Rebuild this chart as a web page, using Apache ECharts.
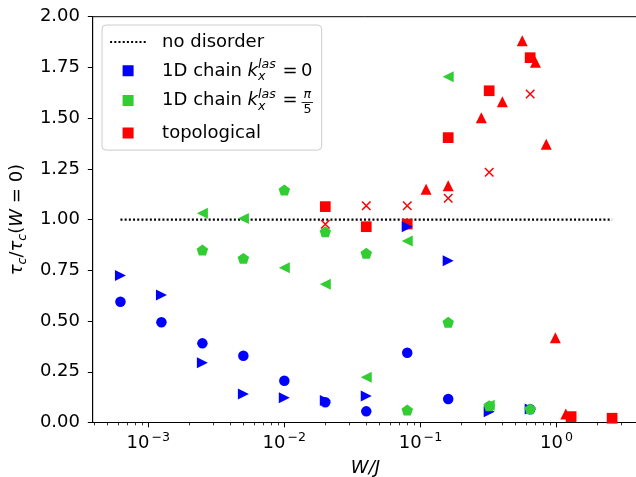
<!DOCTYPE html>
<html><head><meta charset="utf-8">
<script src="https://cdn.jsdelivr.net/npm/echarts@6/dist/echarts.min.js"></script>
<style>html,body{margin:0;padding:0;background:#fff}#c{width:636px;height:477px}</style>
</head><body><div id="c"></div>
<script>
// ---------------- data ----------------
const noDisorderW = [0.000625, 2.56];
const noDisorderY = [1.0, 1.0];

const chain0CircleW = [0.000625, 0.00125, 0.0025, 0.005, 0.01, 0.02, 0.04, 0.08, 0.16, 0.32, 0.64];
const chain0CircleY = [0.595, 0.494, 0.390, 0.329, 0.206, 0.100, 0.055, 0.344, 0.116, 0.078, 0.065];
const chain0TriW = [0.000625, 0.00125, 0.0025, 0.005, 0.01, 0.02, 0.04, 0.08, 0.16, 0.32, 0.64];
const chain0TriY = [0.725, 0.628, 0.295, 0.140, 0.122, 0.108, 0.131, 0.965, 0.797, 0.053, 0.066];

const chainPiPentW = [0.0025, 0.005, 0.01, 0.02, 0.04, 0.08, 0.16, 0.32, 0.64];
const chainPiPentY = [0.850, 0.809, 1.146, 0.940, 0.834, 0.062, 0.494, 0.083, 0.067];
const chainPiTriW = [0.0025, 0.005, 0.01, 0.02, 0.04, 0.08, 0.16, 0.32];
const chainPiTriY = [1.031, 1.006, 0.763, 0.681, 0.223, 0.895, 1.704, 0.085];

const topoSquareW = [0.02, 0.04, 0.08, 0.16, 0.32, 0.64, 1.28, 2.56];
const topoSquareY = [1.064, 0.965, 0.978, 1.404, 1.635, 1.798, 0.029, 0.021];
const topoCrossW = [0.02, 0.04, 0.08, 0.16, 0.32, 0.64, 2.56];
const topoCrossY = [0.977, 1.068, 1.068, 1.105, 1.233, 1.619, 0.025];
const topoTriW = [0.11, 0.16, 0.28, 0.40, 0.56, 0.70, 0.84, 0.98, 1.17];
const topoTriY = [1.149, 1.167, 1.502, 1.581, 1.882, 1.775, 1.371, 0.418, 0.042];

const xMajorTicks = [0.001, 0.01, 0.1, 1];
const legendNames = ['no disorder', 'chain0', 'chainPi', 'topological'];

// ---------------- chart ----------------
const FONT = 'DejaVu Sans';
const BLUE = '#0000ff', GREEN = '#32cd32', RED = '#ff0000';
const XMIN = -3.408, XMAX = 0.6;
const L = v => Math.log10(v);
const pts = (ws, ys) => ws.map((w, i) => [L(w), ys[i]]);

const xMinorTicks = [];
for (let n = -4; n <= 0; n++) for (let k = 2; k <= 9; k++) xMinorTicks.push(k * Math.pow(10, n));

const PENTAGON = 'path://M0,-1L0.9511,-0.309L0.5878,0.809L-0.5878,0.809L-0.9511,-0.309Z';
const CROSS = 'path://M0,0L1,1M1,0L0,1';
const SQ_ICON = 'path://M0,0L0.01,0M12.5,0L23.5,0L23.5,11L12.5,11ZM36,11L35.99,11';

const legendLabels = {
  'no disorder': '{p|no disorder}',
  'chain0': '{p|1D chain }{i|k}{sub|x}{sup|las}{n|\u2009=\u20090}',
  'chainPi': '{p|1D chain }{i|k}{sub|x}{sup|las}{n|\u2009=\u2009}{fpi|\u2009\u03c0}{f5|\u20095}{fbar|\u2014}',
  'topological': '{p|topological}'
};

const base = {fontFamily: FONT, color: '#000'};
const legendRich = {
  p: Object.assign({}, base, {fontSize: 18, padding: [0, 0, 0, 11]}),
  n: Object.assign({}, base, {fontSize: 18, padding: [0, 0, 0, 3]}),
  i: Object.assign({}, base, {fontSize: 18, fontStyle: 'italic'}),
  sup: Object.assign({}, base, {fontSize: 12.6, fontStyle: 'italic', height: 12.7, verticalAlign: 'top'}),
  sub: Object.assign({}, base, {fontSize: 12.6, fontStyle: 'italic', height: 11.9, verticalAlign: 'bottom', width: 0}),
  fpi: Object.assign({}, base, {fontSize: 12.6, fontStyle: 'italic', height: 12, verticalAlign: 'top', width: 0}),
  f5: Object.assign({}, base, {fontSize: 12.6, height: 5.4, verticalAlign: 'bottom', width: 0}),
  fbar: Object.assign({}, base, {fontSize: 12.6, height: 19, verticalAlign: 'bottom'})
};

function fmtPow(v) {
  const e = Math.round(v);
  return '{b|10}{s|' + (e < 0 ? '\u2212' + (-e) : String(e)) + '}';
}

function scatter(name, ws, ys, symbol, size, color, extra) {
  return Object.assign({
    type: 'scatter', name: name, data: pts(ws, ys), symbol: symbol, symbolSize: size,
    symbolKeepAspect: true, itemStyle: {color: color, opacity: 1}, silent: true,
    emphasis: {disabled: true}, xAxisIndex: 0, yAxisIndex: 0
  }, extra || {});
}

const chart = echarts.init(document.getElementById('c'), null, {renderer: 'canvas'});
chart.setOption({
  animation: false,
  backgroundColor: '#ffffff',
  textStyle: {fontFamily: FONT},
  grid: {left: 92.7, top: 16.7, right: -2.2, bottom: 54.5, show: true, borderColor: '#000', borderWidth: 1,
         containLabel: false, outerBoundsMode: 'none'},
  xAxis: [
    {
      type: 'value', min: XMIN, max: XMAX, position: 'bottom',
      name: 'W/J', nameLocation: 'middle', nameGap: 34.8,
      nameTextStyle: {fontFamily: FONT, fontSize: 18, fontStyle: 'italic', color: '#000', lineHeight: 22},
      axisLine: {show: true, onZero: false, lineStyle: {color: '#000', width: 1}},
      axisTick: {show: true, length: 4.9, lineStyle: {color: '#000', width: 1}, customValues: xMajorTicks.map(L)},
      axisLabel: {
        show: true, margin: 10, customValues: xMajorTicks.map(L), formatter: fmtPow,
        rich: {
          b: {fontFamily: FONT, fontSize: 18, color: '#000', lineHeight: 22},
          s: {fontFamily: FONT, fontSize: 12.6, color: '#000', height: 9.6, verticalAlign: 'top', padding: [0, 0, 0, 2]}
        }
      },
      splitLine: {show: false}
    },
    {
      type: 'value', min: XMIN, max: XMAX, position: 'bottom', gridIndex: 0,
      axisLine: {show: false, onZero: false}, axisLabel: {show: false}, splitLine: {show: false},
      axisTick: {show: true, length: 2.8, lineStyle: {color: '#000', width: 0.8}, customValues: xMinorTicks.map(L)}
    }
  ],
  yAxis: {
    type: 'value', min: 0, max: 2, interval: 0.25,
    name: '{i|\u03c4}{sb|c}{n|/}{i|\u03c4}{sb|c}{n|(}{i|W}{n| = 0)}',
    nameLocation: 'middle', nameGap: 57,
    nameTextStyle: {
      fontFamily: FONT, fontSize: 18, color: '#000', lineHeight: 22,
      rich: {
        n: {fontFamily: FONT, fontSize: 18, color: '#000', lineHeight: 22},
        i: {fontFamily: FONT, fontSize: 18, fontStyle: 'italic', color: '#000', lineHeight: 22},
        sb: {fontFamily: FONT, fontSize: 12.6, fontStyle: 'italic', color: '#000', height: 12.2, verticalAlign: 'bottom'}
      }
    },
    axisLine: {show: true, onZero: false, lineStyle: {color: '#000', width: 1}},
    axisTick: {show: true, length: 4.9, lineStyle: {color: '#000', width: 1}},
    axisLabel: {show: true, margin: 12.7, fontFamily: FONT, fontSize: 18, color: '#000', formatter: v => v.toFixed(2)},
    splitLine: {show: false}
  },
  legend: {
    show: true, orient: 'vertical', left: 102, top: 25,
    padding: [5, 8, 5, 7], itemGap: 4.7, itemWidth: 36, itemHeight: 11,
    backgroundColor: 'rgba(255,255,255,0.8)', borderColor: '#cccccc', borderWidth: 1, borderRadius: 4,
    selectedMode: false,
    data: [
      {name: legendNames[0], itemStyle: {color: 'rgba(0,0,0,0)', borderWidth: 0},
       lineStyle: {color: '#000', width: 2.2, type: [2, 2.2], opacity: 1}},
      {name: legendNames[1], icon: SQ_ICON, itemStyle: {color: BLUE, borderWidth: 0, opacity: 1}},
      {name: legendNames[2], icon: SQ_ICON, itemStyle: {color: GREEN, borderWidth: 0, opacity: 1}},
      {name: legendNames[3], icon: SQ_ICON, itemStyle: {color: RED, borderWidth: 0, opacity: 1}}
    ],
    formatter: name => legendLabels[name],
    textStyle: {color: '#000', fontFamily: FONT, fontSize: 18, lineHeight: 24, rich: legendRich}
  },
  series: [
    {
      type: 'line', name: legendNames[0], data: pts(noDisorderW, noDisorderY), symbol: 'none',
      lineStyle: {color: '#000', width: 2.2, type: [2, 2.2], opacity: 1}, itemStyle: {color: '#000'},
      silent: true, emphasis: {disabled: true}, xAxisIndex: 0, yAxisIndex: 0, z: 1
    },
    scatter(legendNames[3], topoSquareW, topoSquareY, 'rect', 10.7, RED),
    scatter(legendNames[1], chain0CircleW, chain0CircleY, 'circle', 10.5, BLUE),
    scatter(legendNames[1], chain0TriW, chain0TriY, 'triangle', 11, BLUE, {symbolRotate: -90}),
    scatter(legendNames[2], chainPiPentW, chainPiPentY, PENTAGON, 11.5, GREEN),
    scatter(legendNames[2], chainPiTriW, chainPiTriY, 'triangle', 11, GREEN, {symbolRotate: 90}),
    scatter(legendNames[3], topoTriW, topoTriY, 'triangle', 11, RED),
    scatter(legendNames[3], topoCrossW, topoCrossY, CROSS, 8.5, 'rgba(0,0,0,0)',
            {itemStyle: {color: 'rgba(0,0,0,0)', borderColor: RED, borderWidth: 1.5, opacity: 1}})
  ]
});
</script>
</body></html>
